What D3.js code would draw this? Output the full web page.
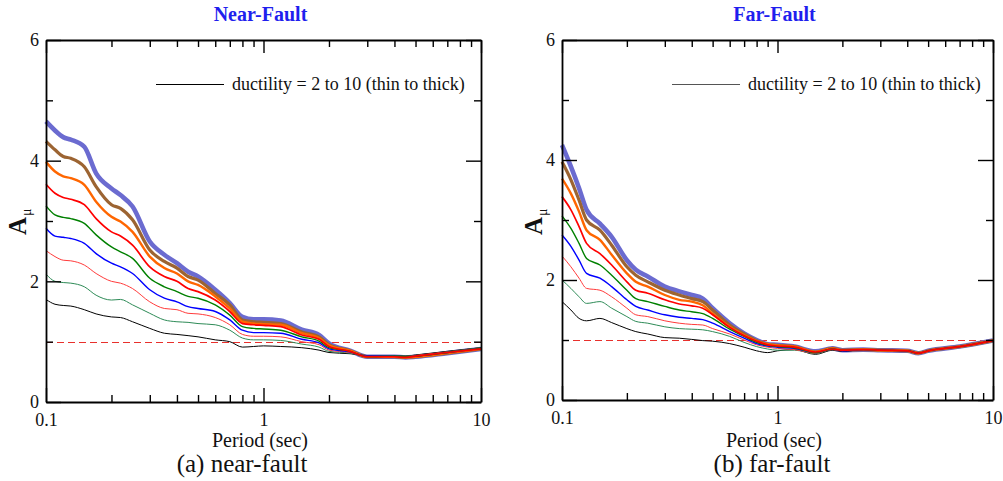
<!DOCTYPE html>
<html>
<head>
<meta charset="utf-8">
<script src="https://cdn.jsdelivr.net/npm/d3@7"></script>
<style>
body { margin: 0; background: #fff; }
text { font-family: "Liberation Serif", Tinos, "Times New Roman", Times, serif; }
</style>
</head>
<body>
<div id="chart"></div>
<script>
// spectral periods (sec) shared by every curve
const periods = [0.1, 0.11, 0.12, 0.13, 0.15, 0.17, 0.2, 0.22, 0.25, 0.3, 0.35, 0.4, 0.45, 0.5, 0.6, 0.7, 0.8, 0.9, 1, 1.2, 1.5, 1.8, 2, 2.5, 3, 4, 4.5, 5, 7, 10];
const ductilities = [2, 3, 4, 5, 6, 7, 8, 9, 10];

// A_mu, one row per ductility (2..10)
const nearFault = [
  [1.70,1.62,1.60,1.59,1.53,1.46,1.41,1.40,1.33,1.22,1.14,1.12,1.10,1.08,1.03,1.00,0.91,0.92,0.93,0.92,0.90,0.86,0.82,0.80,0.77,0.77,0.76,0.78,0.84,0.90],
  [2.12,2.00,1.98,1.97,1.91,1.77,1.69,1.70,1.61,1.47,1.36,1.33,1.32,1.30,1.28,1.19,1.06,1.03,1.03,1.02,0.96,0.91,0.84,0.81,0.76,0.77,0.76,0.77,0.83,0.90],
  [2.51,2.41,2.35,2.34,2.27,2.13,2.00,1.97,1.88,1.66,1.55,1.53,1.47,1.46,1.40,1.28,1.12,1.09,1.09,1.08,1.00,0.95,0.86,0.82,0.76,0.76,0.75,0.77,0.83,0.89],
  [2.88,2.75,2.73,2.71,2.63,2.46,2.30,2.24,2.13,1.86,1.72,1.66,1.58,1.55,1.50,1.36,1.19,1.15,1.15,1.14,1.04,0.98,0.88,0.83,0.76,0.76,0.75,0.76,0.82,0.89],
  [3.25,3.10,3.06,3.04,2.96,2.77,2.57,2.49,2.38,2.05,1.91,1.83,1.75,1.72,1.61,1.44,1.25,1.22,1.21,1.19,1.08,1.01,0.90,0.84,0.75,0.76,0.75,0.76,0.82,0.89],
  [3.61,3.46,3.39,3.36,3.27,3.04,2.82,2.75,2.60,2.24,2.08,2.00,1.88,1.83,1.69,1.50,1.30,1.28,1.27,1.25,1.11,1.04,0.92,0.84,0.75,0.75,0.74,0.76,0.82,0.88],
  [3.98,3.82,3.74,3.71,3.60,3.32,3.07,2.99,2.82,2.41,2.22,2.13,2.00,1.94,1.75,1.55,1.33,1.30,1.29,1.28,1.14,1.06,0.94,0.85,0.75,0.75,0.74,0.75,0.81,0.88],
  [4.32,4.18,4.07,4.04,3.90,3.57,3.27,3.21,3.02,2.52,2.33,2.22,2.08,2.02,1.80,1.61,1.36,1.33,1.32,1.30,1.16,1.08,0.95,0.85,0.75,0.75,0.74,0.75,0.81,0.88],
  [4.65,4.50,4.39,4.35,4.23,3.79,3.54,3.43,3.24,2.66,2.44,2.30,2.16,2.08,1.86,1.64,1.41,1.37,1.37,1.35,1.20,1.11,0.97,0.85,0.75,0.75,0.74,0.75,0.81,0.88]
];

// A_mu
const farFault = [
  [1.64,1.50,1.36,1.32,1.36,1.29,1.19,1.14,1.10,1.04,1.03,1.01,0.99,0.98,0.94,0.88,0.82,0.79,0.82,0.84,0.76,0.83,0.81,0.84,0.83,0.82,0.78,0.82,0.89,0.99],
  [2.00,1.86,1.72,1.61,1.64,1.53,1.39,1.31,1.28,1.22,1.19,1.18,1.17,1.14,1.06,0.96,0.89,0.85,0.83,0.83,0.77,0.84,0.82,0.84,0.83,0.82,0.78,0.82,0.89,0.99],
  [2.40,2.22,2.03,1.86,1.83,1.72,1.53,1.42,1.39,1.32,1.28,1.26,1.25,1.19,1.10,1.00,0.92,0.88,0.86,0.84,0.78,0.84,0.82,0.84,0.83,0.82,0.78,0.82,0.89,0.99],
  [2.75,2.56,2.33,2.11,2.03,1.89,1.67,1.56,1.50,1.42,1.38,1.36,1.34,1.28,1.14,1.03,0.94,0.90,0.88,0.86,0.79,0.85,0.82,0.84,0.83,0.82,0.78,0.82,0.89,0.99],
  [3.07,2.86,2.61,2.36,2.25,2.08,1.83,1.69,1.64,1.56,1.50,1.47,1.44,1.36,1.18,1.06,0.96,0.91,0.89,0.87,0.79,0.85,0.83,0.84,0.83,0.82,0.78,0.82,0.89,0.99],
  [3.39,3.17,2.89,2.61,2.44,2.25,1.97,1.83,1.78,1.67,1.60,1.57,1.53,1.42,1.21,1.07,0.98,0.92,0.90,0.88,0.80,0.85,0.83,0.84,0.83,0.82,0.78,0.82,0.89,0.99],
  [3.69,3.44,3.14,2.83,2.67,2.42,2.11,1.97,1.89,1.75,1.67,1.64,1.58,1.44,1.22,1.08,0.98,0.93,0.91,0.89,0.80,0.86,0.83,0.84,0.83,0.82,0.78,0.82,0.89,0.99],
  [3.97,3.67,3.33,3.00,2.83,2.58,2.22,2.08,1.97,1.83,1.75,1.69,1.64,1.50,1.25,1.10,0.99,0.93,0.91,0.89,0.80,0.86,0.83,0.84,0.83,0.82,0.78,0.82,0.89,0.99],
  [4.25,3.89,3.53,3.17,2.94,2.72,2.33,2.17,2.06,1.89,1.81,1.75,1.69,1.53,1.28,1.11,1.00,0.93,0.92,0.89,0.81,0.86,0.83,0.84,0.83,0.82,0.78,0.82,0.89,0.99]
];

const xTickLabels = ['0.1', '1', '10'];
const yTicks = [0, 1, 2, 3, 4, 5, 6];
const yTickLabels = ['0', '', '2', '', '4', '', '6'];

// style per ductility (thin to thick)
const lineColors = ['#000000', '#2e8b57', '#ff3b3b', '#0000ff', '#008000', '#ff0000', '#ff6600', '#9c6432', '#6b6bd0'];
const lineWidths = [1, 1, 1, 1.4, 1.4, 1.7, 2.4, 3.2, 4.6];
const drawOrder = [8, 7, 6, 0, 1, 2, 3, 4, 5];

const svg = d3.select('#chart').append('svg')
    .attr('width', 1003).attr('height', 481)
    .style('background', '#fff');

const panels = [
  {data: nearFault, left: 46, right: 481, top: 40, bottom: 402, title: 'Near-Fault', caption: '(a) near-fault',
   xLabelX: 260, captionX: 242, legendColor: '#000', yTitleX: 26},
  {data: farFault, left: 562, right: 993, top: 40, bottom: 400, title: 'Far-Fault', caption: '(b) far-fault',
   xLabelX: 774, captionX: 772, legendColor: '#555', yTitleX: 542}
];

function isMajor(d) {
  return Math.abs(Math.log10(d) - Math.round(Math.log10(d))) < 1e-6;
}

function drawPanel(p) {
  const width = p.right - p.left, height = p.bottom - p.top;
  const x = d3.scaleLog().domain([0.1, 10]).range([0, width]);
  const y = d3.scaleLinear().domain([0, 6]).range([height, 0]);
  const g = svg.append('g').attr('transform', `translate(${p.left},${p.top})`);
  const xTicks = x.ticks();

  // reference line at A_mu = 1
  const yOne = Math.round(y(1)) + 0.5;
  g.append('line')
      .attr('x1', 0).attr('x2', width)
      .attr('y1', yOne).attr('y2', yOne)
      .attr('stroke', '#e8302c').attr('stroke-width', 1.2)
      .attr('stroke-dasharray', '7,4');

  const line = d3.line()
      .x((d, i) => x(periods[i]))
      .y(d => y(d))
      .curve(d3.curveMonotoneX);

  drawOrder.forEach(k => {
    g.append('path')
        .datum(p.data[k])
        .attr('fill', 'none')
        .attr('stroke', lineColors[k])
        .attr('stroke-width', lineWidths[k])
        .attr('stroke-linejoin', 'round')
        .attr('d', line);
  });

  // frame axes, ticks pointing inward
  const bottom = g.append('g').attr('transform', `translate(0,${height})`)
      .call(d3.axisBottom(x).tickValues(xTicks).tickSize(-7).tickSizeOuter(0).tickPadding(11)
          .tickFormat(d => isMajor(d) ? xTickLabels[Math.round(Math.log10(d)) + 1] : ''));
  bottom.selectAll('.tick line').attr('y2', d => isMajor(d) ? -14 : -7);

  const topAx = g.append('g')
      .call(d3.axisTop(x).tickValues(xTicks).tickSize(-7).tickSizeOuter(0).tickFormat(''));
  topAx.selectAll('.tick line').attr('y2', d => isMajor(d) ? 13 : 7);

  const leftAx = g.append('g')
      .call(d3.axisLeft(y).tickValues(yTicks).tickSize(-7).tickSizeOuter(0).tickPadding(7)
          .tickFormat((d, i) => yTickLabels[i]));
  leftAx.selectAll('.tick line').attr('x2', d => d % 2 === 0 ? 15 : 7);

  const rightAx = g.append('g').attr('transform', `translate(${width},0)`)
      .call(d3.axisRight(y).tickValues(yTicks).tickSize(-7).tickSizeOuter(0).tickFormat(''));
  rightAx.selectAll('.tick line').attr('x2', d => d % 2 === 0 ? -15 : -7);

  [bottom, topAx, leftAx, rightAx].forEach(a => {
    a.select('.domain').attr('stroke', '#000').attr('stroke-width', 1.8);
    a.selectAll('.tick line').attr('stroke', '#000').attr('stroke-width', 1.4);
    a.selectAll('.tick text')
        .style('font-family', '"Liberation Serif", Tinos, "Times New Roman", serif')
        .style('font-size', '18px')
        .attr('fill', '#111');
  });

  // legend
  g.append('line')
      .attr('x1', 110).attr('x2', 178)
      .attr('y1', 44.5).attr('y2', 44.5)
      .attr('stroke', p.legendColor).attr('stroke-width', 1.2);
  g.append('text')
      .attr('x', 186).attr('y', 50)
      .style('font-size', '18px').attr('fill', '#111')
      .text('ductility = 2 to 10 (thin to thick)');

  // titles
  svg.append('text')
      .attr('x', p.left + width / 2 - 3).attr('y', 21)
      .attr('text-anchor', 'middle')
      .style('font-size', '20px').style('font-weight', 'bold')
      .attr('fill', '#1f1fee')
      .text(p.title);

  svg.append('text')
      .attr('x', p.xLabelX).attr('y', 447)
      .attr('text-anchor', 'middle')
      .style('font-size', '20px').attr('fill', '#111')
      .text('Period (sec)');

  svg.append('text')
      .attr('x', p.captionX).attr('y', 472)
      .attr('text-anchor', 'middle')
      .style('font-size', '25px').attr('fill', '#111')
      .text(p.caption);

  const yt = svg.append('text')
      .attr('transform', `translate(${p.yTitleX},235) rotate(-90)`)
      .attr('fill', '#111');
  yt.append('tspan').style('font-size', '25px').style('font-weight', 'bold').text('A');
  yt.append('tspan').attr('dy', 5).attr('dx', 1).style('font-size', '14px').text('μ');
}

panels.forEach(drawPanel);
</script>
</body>
</html>
